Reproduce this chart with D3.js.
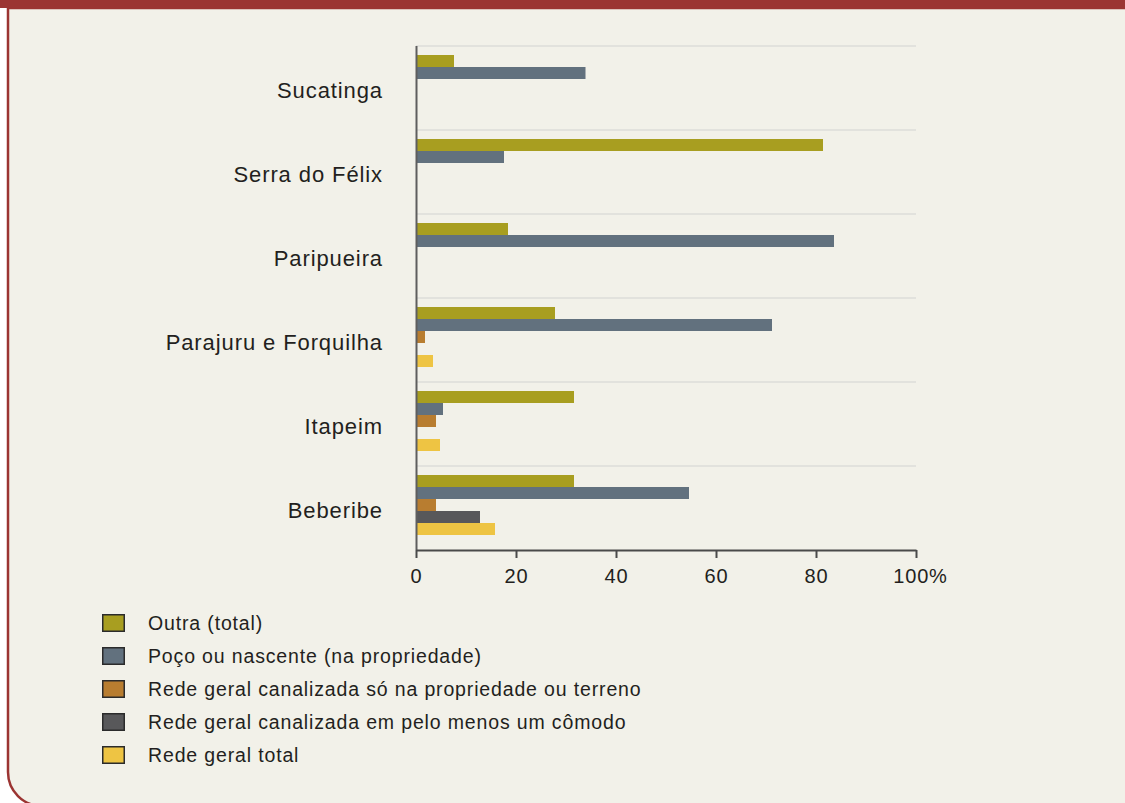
<!DOCTYPE html>
<html>
<head>
<meta charset="utf-8">
<script src="https://cdn.jsdelivr.net/npm/d3@7"></script>
<style>
  body { margin: 0; background: #fff; }
  svg { display: block; font-family: "Liberation Sans", Arial, sans-serif; }
</style>
</head>
<body>
<div id="chart"></div>
<script>
// Data (percent of households)
const categories = ['Sucatinga', 'Serra do Félix', 'Paripueira', 'Parajuru e Forquilha', 'Itapeim', 'Beberibe'];
const seriesNames = [
  'Outra (total)',
  'Poço ou nascente (na propriedade)',
  'Rede geral canalizada só na propriedade ou terreno',
  'Rede geral canalizada em pelo menos um cômodo',
  'Rede geral total'
];
const outra = [7.6, 81.4, 18.4, 27.8, 31.6, 31.6];
const poco = [33.9, 17.6, 83.6, 71.2, 5.4, 54.6];
const redeSo = [null, null, null, 1.8, 4.0, 4.0];
const redeComodo = [null, null, null, null, null, 12.8];
const redeTotal = [null, null, null, 3.4, 4.8, 15.8];
const xTicks = [0, 20, 40, 60, 80, 100];

const colors = ['#a89e20', '#62717e', '#b87d30', '#58585a', '#eec443'];
const seriesValues = [outra, poco, redeSo, redeComodo, redeTotal];

const width = 1125;
const height = 803;
const plot = {left: 416, right: 916, top: 46, bottom: 550};
const red = '#9b3432';

const svg = d3.select('#chart')
  .append('svg')
    .attr('width', width)
    .attr('height', height);

// panel with rounded bottom-left corner
svg.append('path')
  .attr('d', 'M1130,8 L8,8 L8,772 A34,34 0 0 0 42,806 L1130,806 Z')
  .attr('fill', '#f2f1e9')
  .attr('stroke', red)
  .attr('stroke-width', 2.5);
svg.append('rect')
  .attr('x', 0).attr('y', 0)
  .attr('width', width).attr('height', 8)
  .attr('fill', red);

const xScale = d3.scaleLinear()
  .domain([0, 100])
  .range([plot.left, plot.right]);

const yScale = d3.scaleBand()
  .domain(categories)
  .range([plot.top, plot.bottom]);

const innerScale = d3.scaleBand()
  .domain(seriesNames)
  .range([9, 69]);

// gridlines at top of each category band
svg.append('g')
  .selectAll('line')
  .data(categories)
  .join('line')
    .attr('x1', plot.left)
    .attr('x2', plot.right)
    .attr('y1', d => yScale(d))
    .attr('y2', d => yScale(d))
    .attr('stroke', '#dcdcd8')
    .attr('stroke-width', 1.5);

// bars
const barData = [];
categories.forEach((c, i) => {
  seriesNames.forEach((s, j) => {
    const v = seriesValues[j][i];
    if (v !== null) barData.push({cat: c, series: s, value: v, color: colors[j]});
  });
});

svg.append('g')
  .selectAll('rect')
  .data(barData)
  .join('rect')
    .attr('x', xScale(0))
    .attr('y', d => yScale(d.cat) + innerScale(d.series))
    .attr('width', d => xScale(d.value) - xScale(0))
    .attr('height', innerScale.bandwidth())
    .attr('fill', d => d.color);

// category labels
svg.append('g')
  .selectAll('text')
  .data(categories)
  .join('text')
    .attr('x', 383)
    .attr('y', d => yScale(d) + yScale.bandwidth() / 2 + 2)
    .attr('dy', '0.35em')
    .attr('text-anchor', 'end')
    .attr('fill', '#231f20')
    .style('font-size', '22px')
    .style('letter-spacing', '0.9px')
    .text(d => d);

// y axis line
svg.append('line')
  .attr('x1', plot.left + 0.5).attr('x2', plot.left + 0.5)
  .attr('y1', plot.top).attr('y2', plot.bottom)
  .attr('stroke', '#5e5e5e')
  .attr('stroke-width', 2);

// x axis
const xAxis = svg.append('g')
  .attr('transform', `translate(0, ${plot.bottom})`)
  .call(d3.axisBottom(xScale)
    .tickValues(xTicks)
    .tickSize(8)
    .tickSizeOuter(0)
    .tickFormat(d => d === 100 ? '100%' : d));
xAxis.select('.domain').attr('stroke', '#4a4a4a').attr('stroke-width', 2);
xAxis.selectAll('.tick line').attr('stroke', '#4a4a4a').attr('stroke-width', 2);
xAxis.selectAll('.tick text')
  .attr('fill', '#231f20')
  .attr('y', 19)
  .style('font-size', '20px')
  .style('letter-spacing', '0.8px')
  .style('font-family', '"Liberation Sans", Arial, sans-serif');
xAxis.select('.tick:last-of-type text').attr('dx', '0.2em');

// legend
const legend = svg.append('g')
  .attr('transform', 'translate(102, 614)');
const legendRows = legend.selectAll('g')
  .data(seriesNames)
  .join('g')
    .attr('transform', (d, i) => `translate(0, ${i * 33})`);
legendRows.append('rect')
  .attr('x', 0.75).attr('y', 0.75)
  .attr('width', 21.5).attr('height', 16.5)
  .attr('fill', (d, i) => colors[i])
  .attr('stroke', '#2b2b2b')
  .attr('stroke-width', 1.5);
legendRows.append('text')
  .attr('x', 46)
  .attr('y', 9)
  .attr('dy', '0.35em')
  .attr('fill', '#231f20')
  .style('font-size', '19.5px')
  .style('letter-spacing', '0.85px')
  .text(d => d);
</script>
</body>
</html>
